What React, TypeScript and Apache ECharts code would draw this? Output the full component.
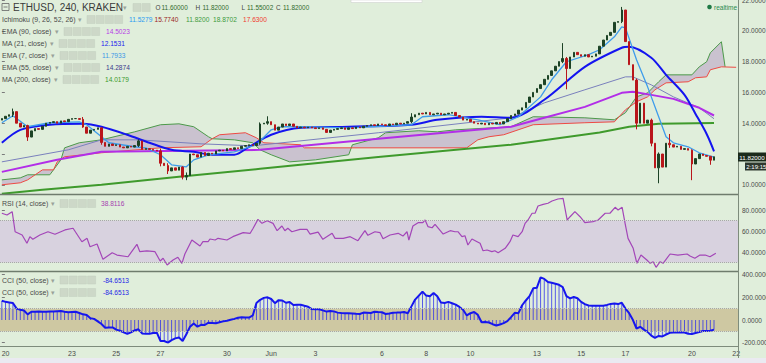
import React, { useEffect, useRef } from "react";
import * as echarts from "echarts";

const FONT = "'Liberation Sans', Arial, sans-serif";
const BG = "#e0eedb";

// ---------- price data (one close per 4h bar, bar index 0..193) ----------
const closes = [
  14.3, 14.45, 14.55, 14.75, 14.0, 13.75, 13.85, 13.1, 13.5, 13.65,
  13.6, 13.8, 14.0, 14.05, 14.1, 14.0, 14.15, 14.1, 14.25, 14.3,
  14.3, 14.25, 13.75, 13.35, 13.55, 13.6, 13.7, 12.75, 12.5, 12.65,
  12.55, 12.6, 12.45, 12.4, 12.5, 12.45, 12.55, 12.85, 12.3, 12.35,
  12.3, 12.25, 12.2, 11.4, 11.25, 10.9, 11.1, 10.95, 11.15, 10.5,
  10.6, 12.0, 11.95, 11.8, 12.1, 11.9, 12.05, 12.0, 12.2, 12.25,
  12.2, 12.35, 12.3, 12.4, 12.35, 12.5, 12.55, 12.6, 12.55, 12.7,
  13.95, 14.0, 14.1, 13.9, 13.55, 13.75, 13.95, 13.85, 13.95, 13.8,
  13.7, 13.75, 13.7, 13.75, 13.7, 13.65, 13.7, 13.6, 13.4, 13.55,
  13.6, 13.65, 13.7, 13.6, 13.7, 13.65, 13.75, 13.7, 13.8, 13.85,
  13.9, 13.85, 13.95, 13.9, 13.85, 13.95, 13.9, 14.0, 13.95, 14.0,
  14.1, 14.4, 14.55, 14.65, 14.6, 14.7, 14.55, 14.6, 14.65, 14.55,
  14.6, 14.65, 14.7, 14.5, 14.4, 14.2, 14.25, 14.1, 14.0, 13.95,
  14.0, 13.9, 14.0, 13.95, 14.05, 13.95, 14.1, 14.3, 14.5, 14.6,
  14.85, 15.0, 15.35, 15.7, 16.0, 16.25, 16.5, 16.85, 17.1, 17.4,
  17.7, 18.0, 18.2, 17.55, 18.3, 18.6, 18.45, 18.35, 18.45, 18.3,
  18.35, 18.5, 19.0, 19.4, 19.7, 19.9, 20.55, 20.6, 21.35, 19.3,
  17.8, 16.8, 14.0, 15.3, 14.0, 14.2, 12.7, 11.1, 12.0, 11.15,
  12.7, 12.6, 12.45, 12.5, 12.3, 12.35, 12.25, 11.35, 11.7, 12.0,
  11.9, 11.85, 11.6, 11.82,
];
const firstOpen = 14.2;
// [bar, high, low] for candles with visible wicks
const wicks = [
  [3, 14.95, 14.4], [7, 13.9, 12.85], [22, 14.4, 13.7], [27, 13.7, 12.6],
  [37, 12.95, 12.45], [43, 12.35, 11.2], [45, 11.4, 10.7], [49, 11.2, 10.35],
  [50, 10.8, 10.3], [70, 14.05, 12.6], [72, 14.45, 13.9], [111, 14.65, 14.0],
  [152, 19.2, 17.9], [153, 18.3, 16.2], [168, 21.55, 20.5], [172, 16.9, 13.6],
  [176, 14.3, 12.5], [178, 12.1, 10.1], [181, 13.3, 12.4], [187, 12.3, 10.3],
  [192, 11.85, 11.3],
];

// ---------- moving averages [bar, value] ----------
const ema7 = [
  [0, 14.03], [3, 14.48], [7, 13.77], [13, 14.03], [21, 14.09], [23, 13.9],
  [27, 13.12], [29, 12.73], [36, 12.47], [39, 12.4], [43, 11.95], [46, 11.3],
  [50, 11.17], [52, 11.62], [56, 11.95], [63, 12.14], [69, 12.6], [73, 13.57],
  [76, 13.77], [81, 13.77], [94, 13.7], [111, 13.9], [114, 14.42], [121, 14.55],
  [129, 14.22], [135, 13.9], [140, 14.42], [146, 15.71], [149, 16.82], [153, 17.99],
  [159, 18.45], [162, 18.77], [166, 19.61], [168, 20.26], [169, 20.19], [172, 18.12],
  [175, 16.36], [178, 14.42], [180, 13.12], [182, 12.73], [186, 12.47], [189, 12.08],
  [193, 11.79],
];
const ma21 = [
  [0, 12.73], [5, 13.57], [13, 13.9], [22, 13.96], [27, 13.77], [34, 13.25],
  [40, 12.73], [46, 12.27], [52, 12.14], [57, 11.95], [63, 11.95], [67, 12.47],
  [73, 13.25], [81, 13.7], [94, 13.77], [111, 13.9], [118, 14.22], [130, 14.42],
  [138, 14.35], [147, 15.52], [158, 17.66], [168, 18.9], [170, 18.96], [176, 18.25],
  [180, 17.14], [185, 15.84], [188, 14.6], [191, 13.3], [193, 12.17],
];
const ema55 = [
  [0, 11.49], [18, 12.27], [27, 12.92], [37, 12.92], [54, 12.66], [68, 12.53],
  [102, 13.38], [138, 14.35], [147, 15.32], [158, 16.17], [169, 17.01], [171, 17.01],
  [176, 16.49], [182, 15.71], [189, 15.0], [193, 14.29],
];
const ema90 = [
  [0, 10.84], [15, 11.62], [27, 12.14], [50, 12.21], [70, 12.27], [102, 12.99],
  [138, 13.77], [147, 14.35], [158, 15.06], [168, 15.97], [171, 16.04], [176, 15.84],
  [182, 15.58], [189, 15.0], [193, 14.5],
];
const ma200 = [
  [0, 9.42], [11, 9.68], [27, 10.0], [48, 10.52], [70, 11.04], [102, 11.8],
  [138, 12.6], [162, 13.4], [170, 13.77], [178, 13.96], [193, 14.02],
];

// ---------- Ichimoku cloud (leading spans, shifted forward) ----------
const leadA = [
  [0, 10.32], [5, 10.45], [7, 10.65], [13, 10.65], [16, 11.62], [17, 12.4],
  [21, 12.73], [27, 12.92], [36, 13.44], [43, 13.9], [48, 13.96], [52, 13.77],
  [56, 13.12], [57, 12.99], [63, 12.92], [68, 12.73], [70, 12.27], [73, 11.95],
  [78, 11.49], [85, 11.62], [94, 11.95], [95, 12.6], [102, 13.05], [104, 13.38],
  [113, 13.51], [118, 13.44], [123, 13.57], [138, 13.77], [144, 14.42], [158, 14.35],
  [166, 14.22], [169, 14.68], [172, 15.71], [175, 15.97], [178, 16.69], [180, 17.14],
  [187, 17.14], [189, 17.66], [191, 17.99], [192, 18.57], [195, 19.29], [196, 17.66],
];
const leadB = [
  [0, 10.0], [5, 10.13], [7, 10.32], [11, 10.97], [14, 10.97], [15, 11.49],
  [17, 11.82], [27, 12.08], [43, 12.4], [54, 12.47], [57, 12.99], [59, 13.25],
  [66, 13.38], [69, 13.05], [71, 12.73], [81, 12.6], [82, 12.4], [126, 12.4],
  [129, 12.92], [132, 13.12], [136, 13.25], [144, 13.9], [158, 14.03], [166, 14.09],
  [169, 14.87], [172, 15.39], [175, 15.71], [177, 16.17], [180, 16.62], [186, 16.69],
  [188, 16.95], [191, 17.01], [192, 17.47], [195, 17.66], [199, 17.63],
];

// ---------- RSI (14) [bar, value] ----------
const rsi = [
  [0, 76.9], [1.4, 75.2], [2.8, 78.4], [3.6, 59.3], [5.5, 56.2], [6.8, 48.3], [7.6, 54.6],
  [8.4, 52.1], [10.3, 56.2], [12.5, 59.3], [14.4, 56.9], [17.1, 61.0], [19.3, 62.6],
  [21.7, 49.8], [23.1, 53.0], [23.9, 45.0], [25.8, 47.6], [27.4, 33.0], [29.9, 39.3],
  [31.2, 37.1], [34.2, 35.5], [36.6, 47.3], [37.4, 40.3], [39.3, 41.0], [41.5, 40.3],
  [42.9, 31.4], [43.7, 34.0], [44.8, 27.6], [46.4, 32.4], [47.7, 35.0], [48.8, 29.2],
  [49.6, 38.1], [51.5, 51.4], [53.7, 45.7], [54.5, 49.8], [55.9, 49.8], [56.4, 52.4],
  [57.8, 51.4], [58.6, 53.0], [61.0, 51.4], [62.6, 54.6], [65.4, 58.4], [67.3, 57.8],
  [68.1, 62.6], [69.4, 71.1], [70.5, 67.3], [71.9, 69.8], [73.5, 67.3], [74.6, 60.3],
  [75.9, 64.8], [76.7, 60.3], [77.5, 62.6], [78.6, 59.3], [80.8, 61.6], [82.7, 61.6],
  [83.5, 57.1], [85.7, 59.0], [87.0, 52.1], [89.5, 57.8], [90.3, 53.0], [92.5, 53.0],
  [94.4, 54.6], [96.5, 50.8], [98.4, 60.3], [99.2, 55.9], [101.1, 59.3], [102.5, 58.4],
  [103.3, 52.7], [105.2, 56.2], [107.4, 57.8], [108.7, 55.2], [109.8, 59.3], [110.3, 51.4],
  [111.4, 64.8], [112.8, 67.9], [114.1, 67.9], [114.7, 70.5], [115.5, 64.1], [116.6, 63.1],
  [117.4, 66.4], [119.6, 57.1], [121.5, 60.3], [122.8, 59.3], [123.6, 59.3], [124.7, 54.6],
  [125.5, 55.5], [126.3, 46.7], [127.4, 52.4], [128.8, 49.8], [129.6, 48.3], [130.4, 41.2],
  [131.5, 41.9], [132.8, 40.3], [133.6, 41.2], [134.5, 39.3], [136.4, 43.5], [137.7, 49.8],
  [138.5, 56.2], [139.9, 54.6], [141.0, 59.3], [141.8, 67.3], [142.6, 70.5], [143.7, 76.9],
  [144.5, 76.9], [145.3, 83.8], [146.7, 85.4], [148.0, 86.4], [149.1, 88.6], [150.7, 90.5],
  [152.1, 91.1], [153.2, 70.5], [154.0, 73.6], [155.3, 78.4], [156.7, 73.6], [158.0, 67.9],
  [160.2, 68.9], [161.6, 70.5], [163.5, 76.9], [164.8, 76.9], [166.2, 82.6], [167.0, 80.0],
  [168.1, 82.6], [168.9, 67.3], [169.7, 53.0], [171.1, 43.5], [172.1, 29.2], [173.2, 37.1],
  [174.8, 32.4], [175.7, 29.2], [176.5, 30.8], [177.3, 25.4], [178.4, 30.8], [179.2, 29.2],
  [181.1, 38.1], [183.2, 37.1], [185.7, 38.1], [186.5, 36.2], [187.8, 34.0], [189.2, 37.1],
  [190.6, 37.1], [191.9, 35.5], [193.5, 38.8],
];

// ---------- CCI (50), one value per bar ----------
const cci = [
  170, 160, 155, 150, 100, 90, 84, 50, 73, 72,
  74, 72, 73, 75, 74, 77, 79, 72, 68, 71,
  73, 62, 50, 44, 15, 10, -12, -35, -68, -66,
  -65, -85, -95, -108, -122, -108, -92, -82, -118, -121,
  -122, -115, -112, -185, -185, -200, -178, -162, -155, -185,
  -125, -60, -30, -59, -42, -44, -24, -26, -29, -20,
  -12, -6, 2, 10, 20, 24, 22, 22, 40, 150,
  178, 195, 200, 185, 148, 175, 172, 152, 158, 132,
  134, 134, 125, 117, 96, 94, 94, 85, 74, 80,
  76, 65, 62, 60, 59, 58, 55, 53, 65, 64,
  62, 73, 70, 68, 53, 58, 64, 65, 67, 70,
  60, 120, 180, 215, 250, 215, 210, 238, 210, 155,
  150, 160, 148, 135, 115, 90, 40, 60, 70, 45,
  -20, -18, -22, -37, -48, -40, -28, -10, 25, 63,
  60, 130, 172, 210, 279, 285, 375, 362, 335, 328,
  320, 310, 290, 210, 190, 203, 192, 160, 140, 128,
  126, 126, 125, 126, 133, 142, 145, 140, 152, 100,
  60, 2, -75, -60, -85, -105, -138, -158, -140, -145,
  -128, -113, -111, -110, -109, -110, -121, -124, -115, -106,
  -97, -96, -95, -85,
];

// ---------- axes ----------
const xTickBars = [1, 19, 31, 43, 61, 73, 85, 103, 115, 127, 145, 157, 169, 187, 199];
const xTickLabels = ["20", "23", "25", "27", "30", "Jun", "3", "6", "8", "10", "13", "15", "17", "20", "22"];
const priceTicks = [10, 12, 14, 16, 18, 20, 22];
const priceLabels = [10, 14, 16, 18, 20, 22]; // 12 is hidden behind the last-price tag
const rsiTicks = [40, 60, 80];
const cciTicks = [-200, 0, 200, 400];

// ---------- legend texts ----------
const symbolTitle = "ETHUSD, 240, KRAKEN";
const ohlcLegend = [["O", "11.60000"], ["H", "11.82000"], ["L", "11.55002"], ["C", "11.82000"]];
const ichimokuLabel = "Ichimoku (9, 26, 52, 26)";
const ichimokuValues = ["11.5279", "15.7740", "11.8200", "18.8702", "17.6300"];
const maLabels = ["EMA (90, close)", "MA (21, close)", "EMA (7, close)", "EMA (55, close)", "MA (200, close)"];
const maValues = ["14.5023", "12.1531", "11.7933", "14.2874", "14.0179"];
const rsiLegend = ["RSI (14, close)", "38.8116"];
const cciLabels = ["CCI (50, close)", "CCI (50, close)"];
const cciValues = ["-84.6513", "-84.6513"];
const lastPrice = "11.82000";
const countdown = "2:19:15";

function buildGraphics() {
  const g: any[] = [];
  const txt = (text: string, x: number, y: number, fill: string, size = 7, weight = "normal", z = 100) =>
    g.push({
      type: "text", x, y, silent: true, z,
      style: { text, fill, fontSize: size, fontFamily: FONT, fontWeight: weight, verticalAlign: "middle", align: "left" },
    });
  const icons = (x: number, y: number, n = 4) => {
    for (let k = 0; k < n; k++)
      g.push({ type: "rect", z: 99, silent: true, shape: { x: x + k * 9.2, y: y - 4, width: 8, height: 8 }, style: { fill: "#cdd8c8", stroke: "#c3cebe", lineWidth: 0.5 } });
  };
  const caret = (x: number, y: number) => txt("▾", x, y, "#9aa39a", 7);

  // frame lines
  g.push({ type: "rect", z: 98, silent: true, shape: { x: 351, y: 0, width: 71, height: 2.5 }, style: { fill: "#ffffff", stroke: "#c9c9c9", lineWidth: 0.5 } });
  g.push({ type: "line", z: 98, silent: true, shape: { x1: 738.5, y1: 0, x2: 738.5, y2: 358 }, style: { stroke: "#7e8c7c", lineWidth: 1 } });
  g.push({ type: "line", z: 98, silent: true, shape: { x1: 0, y1: 194.5, x2: 738, y2: 194.5 }, style: { stroke: "#6f7c6d", lineWidth: 1.5 } });
  g.push({ type: "line", z: 98, silent: true, shape: { x1: 0, y1: 271.5, x2: 738, y2: 271.5 }, style: { stroke: "#6f7c6d", lineWidth: 1.5 } });
  g.push({ type: "line", z: 98, silent: true, shape: { x1: 0, y1: 346.5, x2: 738, y2: 346.5 }, style: { stroke: "#7e8c7c", lineWidth: 1 } });
  g.push({ type: "rect", z: 98, silent: true, shape: { x: 0, y: 358, width: 766, height: 5 }, style: { fill: "#eaeaf1" } });

  // title row
  g.push({ type: "rect", z: 99, silent: true, shape: { x: 2, y: 3.5, width: 7, height: 7 }, style: { fill: "none", stroke: "#666", lineWidth: 0.8 } });
  g.push({ type: "line", z: 99, silent: true, shape: { x1: 3.5, y1: 7, x2: 7.5, y2: 7 }, style: { stroke: "#666", lineWidth: 0.8 } });
  txt(symbolTitle, 13, 7.5, "#3a3a3a", 10);
  caret(123, 7.5);
  icons(133, 7.5, 2);
  const ohlcX = [[155.5, 161.5], [195.5, 202.5], [241.5, 247], [276, 283]];
  ohlcLegend.forEach(([k, v], i) => {
    txt(k, ohlcX[i][0], 7.5, "#444", 6.4);
    txt(v, ohlcX[i][1], 7.5, "#2f6a2c", 6.4);
  });

  // ichimoku row
  txt(ichimokuLabel, 2, 19.5, "#4a4a4a", 7);
  caret(78, 19.5);
  icons(87, 19.5);
  const ichiX = [129, 154.5, 186, 213, 243];
  const ichiC = ["#2b9cf0", "#9a2424", "#3f9b3f", "#3c9a3c", "#f03a30"];
  ichimokuValues.forEach((v, i) => txt(v, ichiX[i], 19.5, ichiC[i], 6.6));

  // MA rows
  const rowY = [31.5, 43.5, 55.5, 67.5, 79.5];
  const iconX = [64, 59, 60, 64, 63];
  const valX = [106, 101, 102, 106, 105];
  const valC = ["#b73ce6", "#1a1aee", "#3d98e6", "#3a3a8c", "#3c9a2e"];
  maLabels.forEach((l, i) => {
    txt(l, 2, rowY[i], "#4a4a4a", 7);
    caret(iconX[i] - 9, rowY[i]);
    icons(iconX[i], rowY[i]);
    txt(maValues[i], valX[i], rowY[i], valC[i], 6.6);
  });

  // RSI row
  txt(rsiLegend[0], 2, 203.5, "#4a4a4a", 7);
  caret(51, 203.5);
  icons(60, 203.5);
  txt(rsiLegend[1], 101, 203.5, "#a53fb0", 6.6);

  // CCI rows
  [280, 292.5].forEach((y, i) => {
    txt(cciLabels[i], 2, y, "#4a4a4a", 7);
    caret(51, y);
    icons(60, y);
    txt(cciValues[i], 103, y, "#2424e6", 6.6);
  });

  // realtime
  g.push({ type: "circle", z: 99, silent: true, shape: { cx: 709.5, cy: 7, r: 2.3 }, style: { fill: "#1f7a45" } });
  txt("realtime", 714, 7.5, "#2b8a4e", 6.5);

  // price tags
  g.push({ type: "rect", z: 101, silent: true, shape: { x: 738, y: 152.5, width: 28, height: 9 }, style: { fill: "#1b2a1b" } });
  txt(lastPrice, 739.3, 157, "#ffffff", 6.2, "normal", 102);
  g.push({ type: "rect", z: 101, silent: true, shape: { x: 745, y: 162.5, width: 21, height: 8 }, style: { fill: "#2e382e" } });
  txt(countdown, 746.3, 166.5, "#ffffff", 6, "normal", 102);
  return g;
}

function buildOption() {
  const candles = closes.map((c, i) => {
    const o = i === 0 ? firstOpen : closes[i - 1];
    const w = wicks.find((x) => x[0] === i);
    const lo = w ? w[2] : Math.min(o, c);
    const hi = w ? w[1] : Math.max(o, c);
    return [i, o, c, lo, hi];
  });
  const cciData = cci.map((v, i) => [i, v]);

  const line = (data: any, color: string, width: number, z: number, extra: any = {}) => ({
    type: "line", xAxisIndex: 0, yAxisIndex: 0, data, showSymbol: false, symbol: "none",
    silent: true, z, lineStyle: { color, width }, ...extra,
  });

  const axisLabelBase = { color: "#4a4a4a", fontSize: 7, fontFamily: FONT };
  const yAx = (gi: number, min: number, max: number, ticks: number[], labels: number[], fmt: (v: number) => string) => ({
    type: "value", gridIndex: gi, position: "right", min, max,
    axisLine: { show: false }, splitLine: { show: false },
    axisTick: { show: true, length: 3, customValues: ticks, lineStyle: { color: "#7a7a7a" } },
    axisLabel: { ...axisLabelBase, fontSize: 6.5, customValues: labels, formatter: fmt, margin: 4 },
  });

  const gridBase = { left: 0, width: 738, containLabel: false, outerBoundsMode: "none" };

  return {
    backgroundColor: BG,
    animation: false,
    textStyle: { fontFamily: FONT },
    grid: [
      { ...gridBase, top: 0, height: 215.6 },
      { ...gridBase, top: 189, height: 84 },
      { ...gridBase, top: 274.6, height: 68.1 },
    ],
    xAxis: [0, 1, 2].map((k) => ({
      type: "value", gridIndex: k, min: -0.5, max: 199.5, show: k === 2,
      offset: k === 2 ? 3.8 : 0,
      axisLine: { show: false }, splitLine: { show: false },
      axisTick: { show: k === 2, length: 3, customValues: xTickBars, lineStyle: { color: "#7a7a7a" } },
      axisLabel: {
        ...axisLabelBase, show: k === 2, customValues: xTickBars, margin: 3,
        formatter: (v: number) => { const j = xTickBars.indexOf(v); return j >= 0 ? xTickLabels[j] : ""; },
      },
    })),
    yAxis: [
      yAx(0, 8, 22, priceTicks, priceLabels, (v) => v.toFixed(4)),
      yAx(1, 20, 100, rsiTicks, rsiTicks, (v) => v.toFixed(4)),
      yAx(2, -200, 400, cciTicks, cciTicks, (v) => v.toFixed(4)),
    ],
    graphic: buildGraphics(),
    series: [
      {
        type: "custom", xAxisIndex: 0, yAxisIndex: 0, z: 1, silent: true,
        data: [[0, 12]], encode: { x: 0, y: 1 },
        renderItem: (_p: any, api: any) => {
          const last = leadA[leadA.length - 1][0];
          const top = leadA.map((p) => api.coord(p));
          const bot = leadB.filter((p) => p[0] <= last).map((p) => api.coord(p)).reverse();
          return { type: "polygon", shape: { points: top.concat(bot) }, style: { fill: "#c8bfcf", opacity: 0.95 } };
        },
      },
      line(leadA, "#4c9a4a", 1, 2),
      line(leadB, "#ee4a44", 1, 2),
      line(ma200, "#3f9a2c", 2, 3),
      line(ema55, "#7a80bd", 1, 3),
      line(ema90, "#b22ee8", 2, 3),
      line(ma21, "#1414f0", 2, 3, { smooth: 0.3 }),
      line(ema7, "#3e9ceb", 1.3, 4),
      {
        type: "candlestick", xAxisIndex: 0, yAxisIndex: 0, z: 5, silent: true,
        data: candles, encode: { x: 0, y: [1, 2, 3, 4] }, barWidth: 2,
        itemStyle: { color: "#1d4326", color0: "#b9161b", borderColor: "#1d4326", borderColor0: "#b9161b", borderWidth: 1 },
      },
      {
        type: "line", xAxisIndex: 1, yAxisIndex: 1, data: rsi, showSymbol: false, symbol: "none", silent: true, z: 3,
        lineStyle: { color: "#a346b8", width: 1.2 },
        markArea: { silent: true, itemStyle: { color: "#d8d2df" }, data: [[{ yAxis: 30 }, { yAxis: 70 }]] },
        markLine: {
          silent: true, symbol: "none", label: { show: false },
          lineStyle: { color: "#a7a7a7", type: "dotted", width: 1 },
          data: [{ yAxis: 30 }, { yAxis: 70 }],
        },
      },
      {
        type: "bar", xAxisIndex: 2, yAxisIndex: 2, data: cciData, barWidth: 1, silent: true, z: 2,
        itemStyle: { color: "rgba(40,40,235,0.75)" },
        markArea: { silent: true, itemStyle: { color: "#cec8a2" }, data: [[{ yAxis: -100 }, { yAxis: 100 }]] },
        markLine: {
          silent: true, symbol: "none", label: { show: false },
          lineStyle: { color: "#a7a7a7", type: "dotted", width: 1 },
          data: [{ yAxis: -100 }, { yAxis: 100 }],
        },
      },
      {
        type: "line", xAxisIndex: 2, yAxisIndex: 2, data: cciData, showSymbol: false, symbol: "none", silent: true, z: 3,
        lineStyle: { color: "#1616ee", width: 2 },
      },
    ],
  };
}

export default function App() {
  const ref = useRef<HTMLDivElement>(null);
  useEffect(() => {
    document.body.style.margin = "0";
    const chart = echarts.init(ref.current as HTMLDivElement, null, { renderer: "svg" });
    chart.setOption(buildOption() as any);
    return () => chart.dispose();
  }, []);
  return <div ref={ref} style={{ width: 766, height: 363, background: BG }} />;
}
